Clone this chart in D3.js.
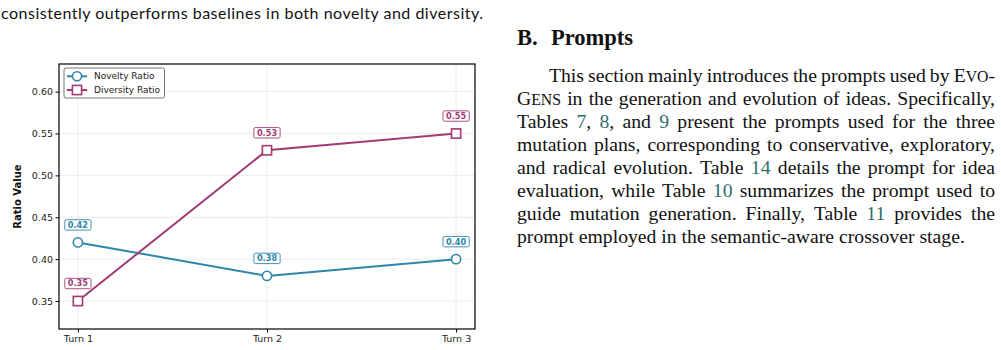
<!DOCTYPE html>
<html>
<head>
<meta charset="utf-8">
<script src="https://cdn.jsdelivr.net/npm/d3@7"></script>
<style>
  body { margin: 0; background: #fff; }
  svg { display: block; }
</style>
</head>
<body>
<svg width="1001" height="350"></svg>
<script>
const turns = ['Turn 1', 'Turn 2', 'Turn 3'];
const noveltyRatio = [0.42, 0.38, 0.40];
const diversityRatio = [0.35, 0.53, 0.55];
const yTicks = [0.35, 0.40, 0.45, 0.50, 0.55, 0.60];
const seriesNames = ['Novelty Ratio', 'Diversity Ratio'];

const blue = '#2E86AB';
const magenta = '#A23B72';

const svg = d3.select('svg');

// caption fragment at the top
svg.append('text')
    .attr('x', 1)
    .attr('y', 19)
    .attr('font-family', 'Lato, sans-serif')
    .attr('font-size', 16)
    .attr('fill', '#111')
    .attr('textLength', 482)
    .attr('lengthAdjust', 'spacing')
    .text('consistently outperforms baselines in both novelty and diversity.');

// ---------- chart ----------
const frame = {left: 59, right: 475, top: 64, bottom: 329};

const x = d3.scaleLinear().domain([-0.1, 2.1]).range([frame.left, frame.right]);
const y = d3.scaleLinear().domain([0.3166, 0.633]).range([frame.bottom, frame.top]);

const g = svg.append('g');

// grid
g.selectAll('line.hgrid').data(yTicks)
    .enter().append('line')
    .attr('x1', frame.left).attr('x2', frame.right)
    .attr('y1', d => y(d)).attr('y2', d => y(d))
    .attr('stroke', '#e6e6e6').attr('stroke-width', 0.8);
g.selectAll('line.vgrid').data(turns)
    .enter().append('line')
    .attr('x1', (d, i) => x(i)).attr('x2', (d, i) => x(i))
    .attr('y1', frame.top).attr('y2', frame.bottom)
    .attr('stroke', '#e6e6e6').attr('stroke-width', 0.8);

// axes
const yAxis = d3.axisLeft(y).tickValues(yTicks).tickFormat(d3.format('.2f')).tickSize(3.5).tickPadding(2.5);
const xAxis = d3.axisBottom(x).tickValues([0, 1, 2]).tickFormat(i => turns[i]).tickSize(3.5).tickPadding(2.5);

g.append('g')
    .attr('transform', `translate(${frame.left},0)`)
    .call(yAxis)
    .call(a => a.select('.domain').remove())
    .call(a => a.selectAll('text').attr('font-family', 'DejaVu Sans, sans-serif').attr('font-size', 9.5).attr('fill', '#222'));

g.append('g')
    .attr('transform', `translate(0,${frame.bottom})`)
    .call(xAxis)
    .call(a => a.select('.domain').remove())
    .call(a => a.selectAll('text').attr('font-family', 'DejaVu Sans, sans-serif').attr('font-size', 9.5).attr('fill', '#222'));

g.append('rect')
    .attr('x', frame.left).attr('y', frame.top)
    .attr('width', frame.right - frame.left).attr('height', frame.bottom - frame.top)
    .attr('fill', 'none').attr('stroke', '#000').attr('stroke-width', 1.2);

g.append('text')
    .attr('transform', `translate(21,${(frame.top + frame.bottom) / 2}) rotate(-90)`)
    .attr('text-anchor', 'middle')
    .attr('font-family', 'DejaVu Sans, sans-serif')
    .attr('font-weight', 'bold')
    .attr('font-size', 10)
    .attr('fill', '#111')
    .text('Ratio Value');

// lines and markers
const line = d3.line().x((d, i) => x(i)).y(d => y(d));
const series = [
    {name: seriesNames[0], values: noveltyRatio, color: blue, shape: 'circle'},
    {name: seriesNames[1], values: diversityRatio, color: magenta, shape: 'square'}
];

function drawMarker(sel, shape, color) {
    if (shape === 'circle') {
        sel.append('circle').attr('r', 4.6)
            .attr('fill', '#fff').attr('stroke', color).attr('stroke-width', 1.6);
    } else {
        sel.append('rect').attr('x', -4.6).attr('y', -4.6).attr('width', 9.2).attr('height', 9.2)
            .attr('fill', '#fff').attr('stroke', color).attr('stroke-width', 1.6);
    }
}

series.forEach(s => {
    g.append('path')
        .attr('d', line(s.values))
        .attr('fill', 'none')
        .attr('stroke', s.color)
        .attr('stroke-width', 2);
    s.values.forEach((v, i) => {
        const m = g.append('g').attr('transform', `translate(${x(i)},${y(v)})`);
        drawMarker(m, s.shape, s.color);
    });
});

// value labels
series.forEach(s => {
    s.values.forEach((v, i) => {
        const lg = g.append('g').attr('transform', `translate(${x(i)},${y(v) - 17.5})`);
        const t = lg.append('text')
            .attr('text-anchor', 'middle')
            .attr('dy', '0.36em')
            .attr('font-family', 'DejaVu Sans, sans-serif')
            .attr('font-weight', 'bold')
            .attr('font-size', 8.2)
            .attr('fill', s.color)
            .text(v.toFixed(2));
        const w = t.node().getComputedTextLength() + 6;
        lg.insert('rect', 'text')
            .attr('x', -w / 2).attr('y', -5.2)
            .attr('width', w).attr('height', 10.4)
            .attr('rx', 1.5)
            .attr('fill', '#fff').attr('fill-opacity', 0.85)
            .attr('stroke', s.color).attr('stroke-width', 0.9);
    });
});

// legend
const legend = g.append('g');
legend.append('rect')
    .attr('x', 64).attr('y', 68).attr('width', 100.5).attr('height', 30)
    .attr('rx', 2)
    .attr('fill', '#fff').attr('fill-opacity', 0.9)
    .attr('stroke', '#555').attr('stroke-width', 0.8);
series.forEach((s, i) => {
    const ly = 76.3 + i * 13.7;
    legend.append('line')
        .attr('x1', 67).attr('x2', 87).attr('y1', ly).attr('y2', ly)
        .attr('stroke', s.color).attr('stroke-width', 2);
    const m = legend.append('g').attr('transform', `translate(77,${ly})`);
    drawMarker(m, s.shape, s.color);
    legend.append('text')
        .attr('x', 94).attr('y', ly).attr('dy', '0.35em')
        .attr('font-family', 'DejaVu Sans, sans-serif')
        .attr('font-size', 9)
        .attr('fill', '#222')
        .text(s.name);
});

// ---------- right column text ----------
const serif = 'Liberation Serif, Times New Roman, serif';
const linkColor = '#2f6e6e';

svg.append('text')
    .attr('x', 517).attr('y', 45)
    .attr('font-family', serif).attr('font-weight', 'bold').attr('font-size', 22.5)
    .attr('fill', '#111').text('B.');
svg.append('text')
    .attr('x', 551).attr('y', 45)
    .attr('font-family', serif).attr('font-weight', 'bold').attr('font-size', 22.5)
    .attr('fill', '#111').text('Prompts');

// each line: {E|VO|-} small caps, [7] link-coloured number
const paraLines = [
    'This section mainly introduces the prompts used by {E|VO|-}',
    '{G|ENS} in the generation and evolution of ideas. Specifically,',
    'Tables [7], [8], and [9] present the prompts used for the three',
    'mutation plans, corresponding to conservative, exploratory,',
    'and radical evolution. Table [14] details the prompt for idea',
    'evaluation, while Table [10] summarizes the prompt used to',
    'guide mutation generation. Finally, Table [11] provides the',
    'prompt employed in the semantic-aware crossover stage.'
];

function parseWord(w) {
    const pieces = [];
    const sc = w.match(/^\{(.*)\}$/);
    if (sc) {
        const parts = sc[1].split('|');
        pieces.push([parts[0], 'n']);
        pieces.push([parts[1], 'sc']);
        if (parts[2]) pieces.push([parts[2], 'n']);
        return pieces;
    }
    const lk = w.match(/^\[(.*)\](.*)$/);
    if (lk) {
        pieces.push([lk[1], 'l']);
        if (lk[2]) pieces.push([lk[2], 'n']);
        return pieces;
    }
    pieces.push([w, 'n']);
    return pieces;
}

const fontSize = 19.7;
const lineStart = 517, lineEnd = 995, indent = 32;
const para = svg.append('g')
    .attr('font-family', serif).attr('font-size', fontSize).attr('fill', '#111');

paraLines.forEach((ln, li) => {
    const by = 81.7 + li * 23;
    const x0 = li === 0 ? lineStart + indent : lineStart;
    const words = ln.split(' ').map(parseWord);
    const nodes = words.map(pcs => {
        const t = para.append('text').attr('y', by);
        pcs.forEach(([txt, kind]) => {
            const ts = t.append('tspan').text(txt);
            if (kind === 'l') ts.attr('fill', linkColor);
            if (kind === 'sc') ts.attr('font-size', fontSize * 0.8);
        });
        return t;
    });
    const widths = nodes.map(n => n.node().getComputedTextLength());
    const total = d3.sum(widths);
    const last = li === paraLines.length - 1;
    const gap = last ? fontSize * 0.25 : (lineEnd - x0 - total) / (nodes.length - 1);
    let cx = x0;
    nodes.forEach((n, i) => {
        n.attr('x', cx);
        cx += widths[i] + gap;
    });
});
</script>
</body>
</html>
